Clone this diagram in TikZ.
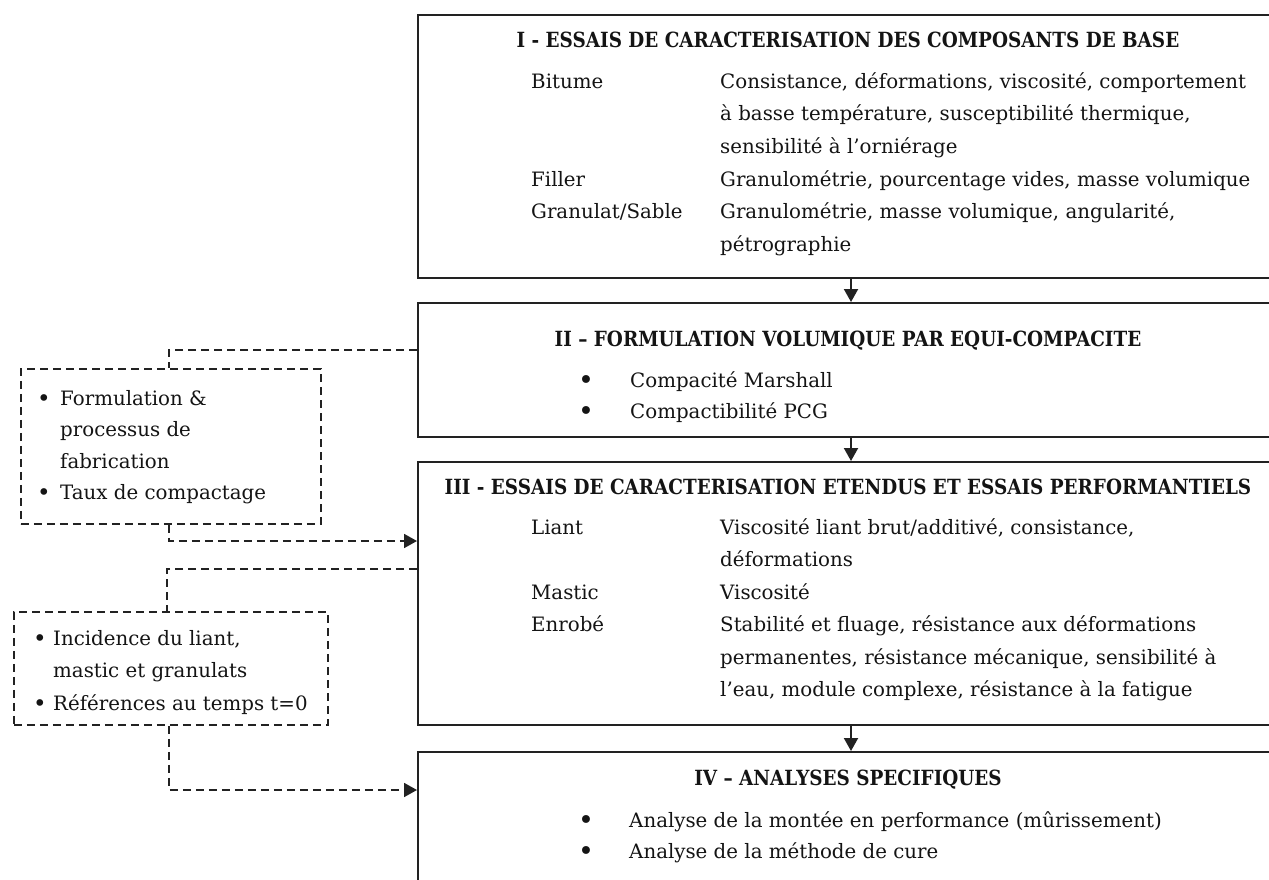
\documentclass[tikz,border=0pt]{standalone}
\usepackage{fontspec}
\setmainfont{DejaVu Serif}
\newfontfamily\ttlfont[FakeStretch=0.88]{DejaVu Serif}
\usetikzlibrary{arrows.meta}
\definecolor{linec}{HTML}{222222}
\definecolor{txtc}{HTML}{141414}
\begin{document}
\begin{tikzpicture}[x=1pt,y=-1pt,
  box/.style={draw=linec, line width=2pt, inner sep=0pt, anchor=north west},
  dbox/.style={draw=linec, line width=1.8pt, dash pattern=on 8pt off 5pt, inner sep=0pt, anchor=north west},
  conn/.style={draw=linec, line width=1.8pt, dash pattern=on 8pt off 5pt},
  solidarr/.style={draw=linec, line width=2pt, -{Triangle[length=13pt,width=14pt]}},
  arr/.style={-{Triangle[length=13pt,width=14pt]}},
  ttl/.style={font=\ttlfont\bfseries\fontsize{20.9}{24}\selectfont, anchor=base, inner sep=0pt, text=txtc},
  txt/.style={font=\fontsize{19.8}{22}\selectfont, anchor=base west, inner sep=0pt, text=txtc},
  bul/.style={font=\fontsize{27}{22}\selectfont, anchor=base, inner sep=0pt, text=txtc, yshift=-2pt},
  sbul/.style={font=\fontsize{23}{22}\selectfont, anchor=base, inner sep=0pt, text=txtc, yshift=-1pt}
]
\clip (0,0) rectangle (1269,880);
\fill[white] (0,0) rectangle (1269,880);
% main boxes
\node[box, minimum width=870pt, minimum height=263pt] (b1) at (417,14) {};
\node[box, minimum width=870pt, minimum height=134pt] (b2) at (417,302) {};
\node[box, minimum width=870pt, minimum height=263pt] (b3) at (417,461) {};
\node[box, minimum width=870pt, minimum height=160pt] (b4) at (417,751) {};
\coordinate (ax) at (851,0);
\draw[solidarr] (b1.south -| ax) -- (b2.north -| ax);
\draw[solidarr] (b2.south -| ax) -- (b3.north -| ax);
\draw[solidarr] (b3.south -| ax) -- (b4.north -| ax);
% dashed boxes
\node[dbox, minimum width=300pt, minimum height=155pt] (d1) at (20,368) {};
\node[dbox, minimum width=314pt, minimum height=113pt] (d2) at (13,611) {};
\coordinate (c1a) at (169,350);
\coordinate (c1b) at (169,541);
\coordinate (c2a) at (167,569);
\coordinate (c2b) at (169,790);
\draw[conn] (c1a -| b2.west) -- (c1a) -- (c1a |- d1.north);
\draw[conn, arr] (c1b |- d1.south) -- (c1b) -- (c1b -| b3.west);
\draw[conn] (c2a -| b3.west) -- (c2a) -- (c2a |- d2.north);
\draw[conn, arr] (c2b |- d2.south) -- (c2b) -- (c2b -| b4.west);
% box I
\node[ttl] (t1) at (848,48) {I - ESSAIS DE CARACTERISATION DES COMPOSANTS DE BASE};
\node[txt] (l1a) at (531,89) {Bitume};
\node[txt] (r1a) at (720,89) {Consistance, déformations, viscosité, comportement};
\node[txt] (r1b) at (720,121) {à basse température, susceptibilité thermique,};
\node[txt] (r1c) at (720,153.5) {sensibilité à l’orniérage};
\node[txt] (l1d) at (531,186) {Filler};
\node[txt] (r1d) at (720,186) {Granulométrie, pourcentage vides, masse volumique};
\node[txt] (l1e) at (531,218.5) {Granulat/Sable};
\node[txt] (r1e) at (720,218.5) {Granulométrie, masse volumique, angularité,};
\node[txt] (r1f) at (720,251) {pétrographie};
% box II
\node[ttl] (t2) at (848,346) {II – FORMULATION VOLUMIQUE PAR EQUI-COMPACITE};
\node[bul] (p2a) at (586,387) {•};
\node[txt] (r2a) at (630,387) {Compacité Marshall};
\node[bul] (p2b) at (586,418) {•};
\node[txt] (r2b) at (630,418) {Compactibilité PCG};
% box III
\node[ttl] (t3) at (848,494) {III - ESSAIS DE CARACTERISATION ETENDUS ET ESSAIS PERFORMANTIELS};
\node[txt] (l3a) at (531,534) {Liant};
\node[txt] (r3a) at (720,534) {Viscosité liant brut/additivé, consistance,};
\node[txt] (r3b) at (720,566.5) {déformations};
\node[txt] (l3c) at (531,599) {Mastic};
\node[txt] (r3c) at (720,599) {Viscosité};
\node[txt] (l3d) at (531,631.5) {Enrobé};
\node[txt] (r3d) at (720,631.5) {Stabilité et fluage, résistance aux déformations};
\node[txt] (r3e) at (720,664) {permanentes, résistance mécanique, sensibilité à};
\node[txt] (r3f) at (720,696.5) {l’eau, module complexe, résistance à la fatigue};
% box IV
\node[ttl] (t4) at (848,785) {IV – ANALYSES SPECIFIQUES};
\node[bul] (p4a) at (586,827) {•};
\node[txt] (r4a) at (629,827) {Analyse de la montée en performance (mûrissement)};
\node[bul] (p4b) at (586,858) {•};
\node[txt] (r4b) at (629,858) {Analyse de la méthode de cure};
% dashed box texts
\node[sbul] (q1a) at (44,405) {•};
\node[txt] (s1a) at (60,405) {Formulation \&};
\node[txt] (s1b) at (60,436.5) {processus de};
\node[txt] (s1c) at (60,468) {fabrication};
\node[sbul] (q1d) at (44,499.5) {•};
\node[txt] (s1d) at (60,499.5) {Taux de compactage};
\node[sbul] (q2a) at (40,645) {•};
\node[txt] (s2a) at (53,645) {Incidence du liant,};
\node[txt] (s2b) at (53,677.5) {mastic et granulats};
\node[sbul] (q2c) at (40,710) {•};
\node[txt] (s2c) at (53,710) {Références au temps t=0};
\end{tikzpicture}
\end{document}
